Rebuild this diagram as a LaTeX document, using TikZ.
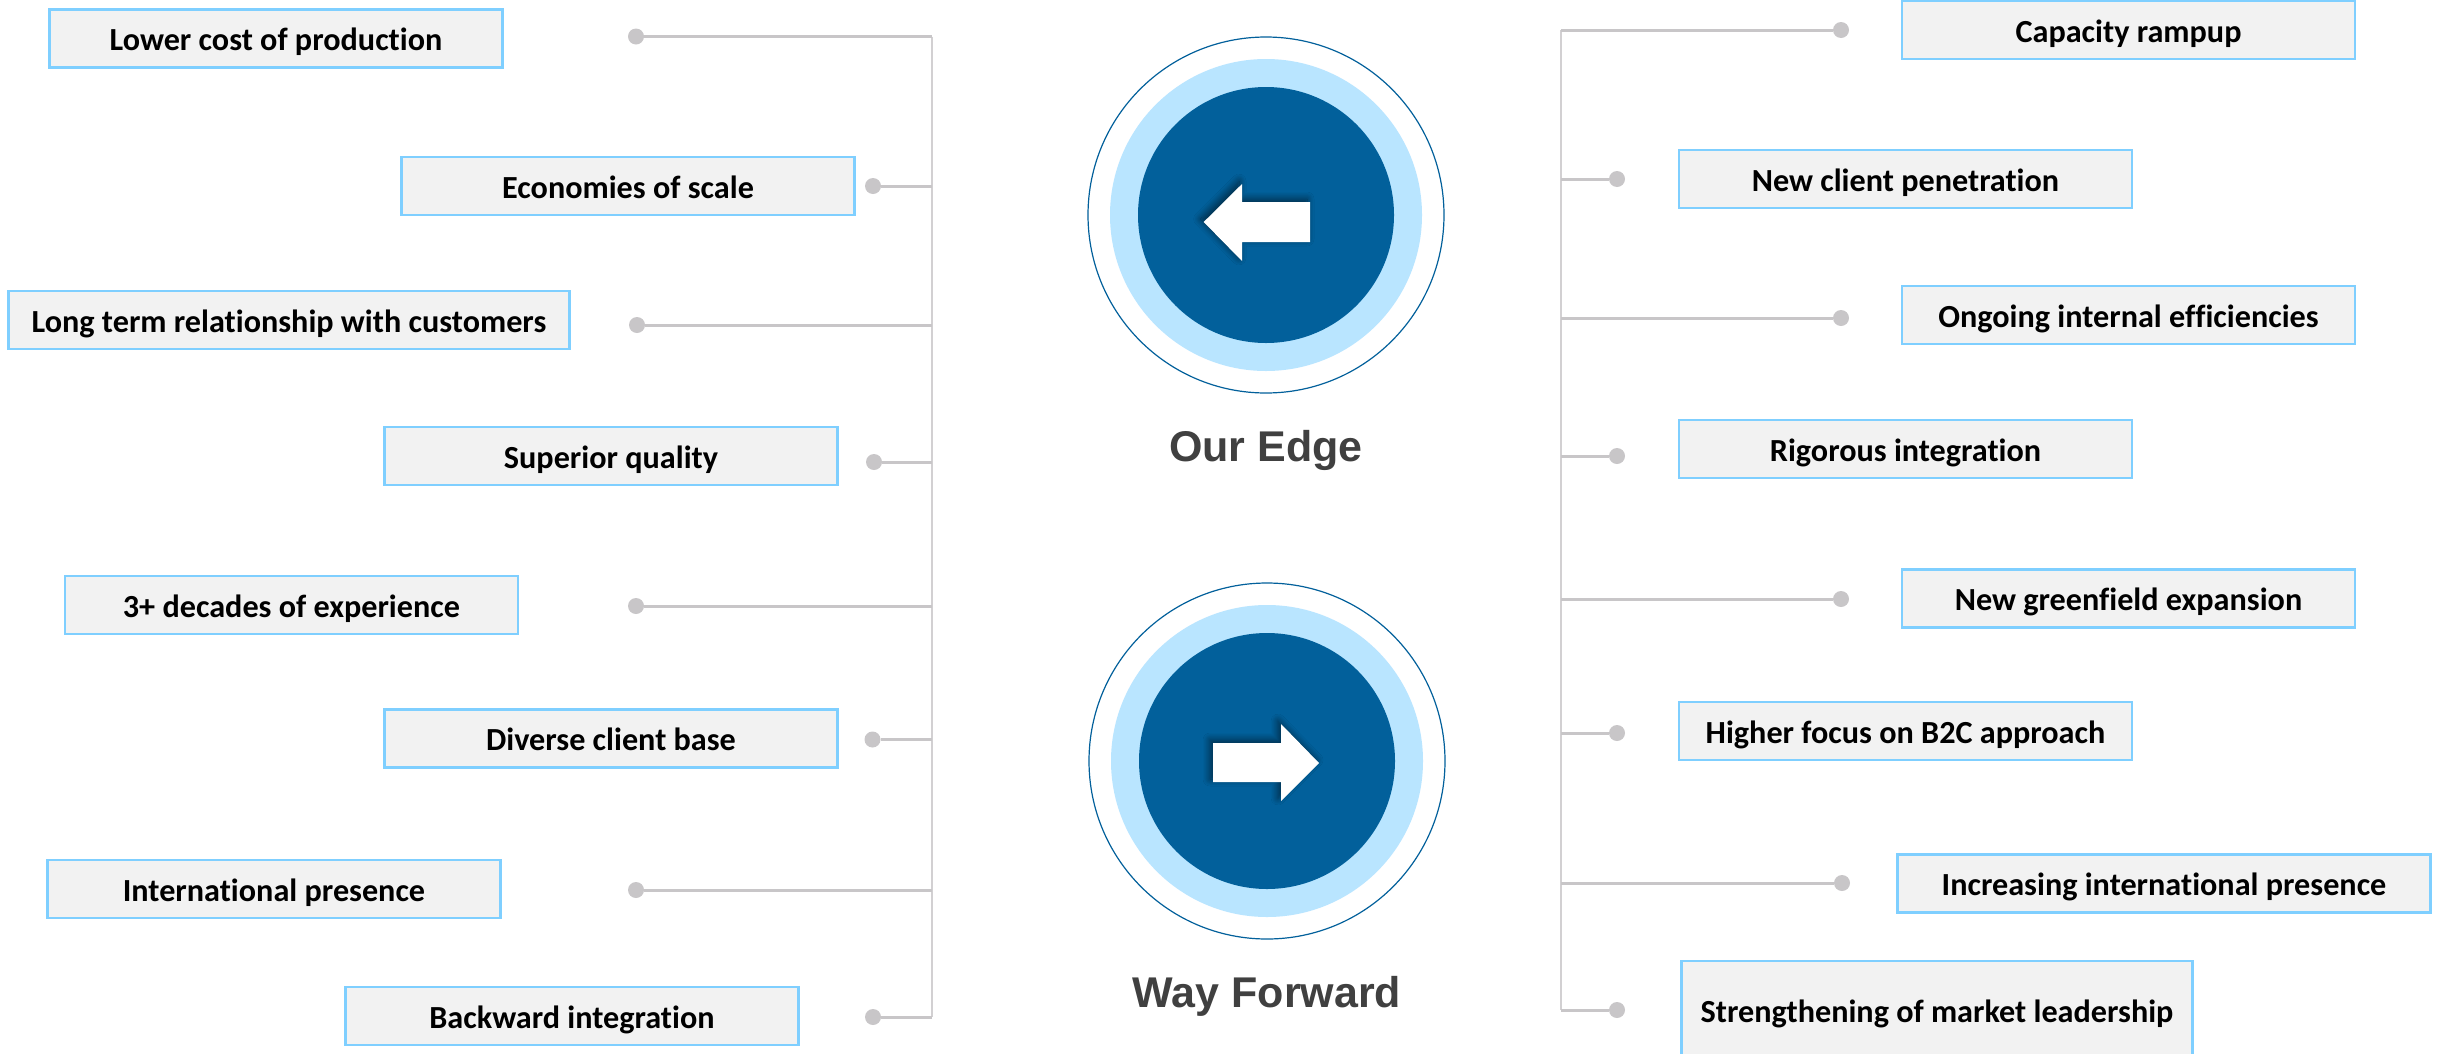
\documentclass[tikz,border=0pt]{standalone}
\usepackage{fontspec}
\setmainfont[Ligatures=NoCommon]{Carlito}
\newfontfamily\headfont{Liberation Sans}
\usetikzlibrary{shadows.blur}
\definecolor{boxline}{HTML}{7FCFFF}
\definecolor{boxfill}{HTML}{F2F2F2}
\definecolor{conn}{HTML}{C8C6C8}
\definecolor{trunk}{HTML}{D2D0D2}
\definecolor{navy}{HTML}{02609B}
\definecolor{pale}{HTML}{B9E5FF}
\definecolor{headtxt}{HTML}{404040}
\tikzset{
  x=1pt,y=-1pt,
  itembox/.style={draw=boxline,fill=boxfill,line width=2.4pt,minimum width=453pt,minimum height=58pt,inner sep=0pt,
    text height=31pt,text depth=7pt,
    font=\fontsize{32.2pt}{36pt}\selectfont\bfseries,text=black},
  dot/.style={circle,fill=conn,minimum size=16pt,inner sep=0pt},
  conn line/.style={draw=conn,line width=3pt},
  trunk line/.style={draw=trunk,line width=2pt},
  outer ring/.style={circle,draw=navy,line width=1.2pt,fill=white,minimum size=356pt,inner sep=0pt},
  mid ring/.style={circle,fill=pale,minimum size=312pt,inner sep=0pt},
  core/.style={circle,fill=navy,minimum size=256pt,inner sep=0pt},
  headline/.style={font=\headfont\fontsize{43pt}{48pt}\selectfont\bfseries,text=headtxt,inner sep=0pt},
  arrow shape/.style={fill=white,blur shadow={shadow xshift=-3pt,shadow yshift=3pt,shadow blur radius=7pt,shadow opacity=55,shadow blur steps=12}},
}
\begin{document}
\begin{tikzpicture}
\useasboundingbox (0,0) rectangle (2447,1053);
\clip (0,0) rectangle (2447,1053);
% left items
\node[itembox] (l1) at (276,38.5) {Lower cost of production};
\node[itembox] (l2) at (628,186) {Economies of scale};
\node[itembox,minimum width=561pt] (l3) at (289,320) {Long term relationship with customers};
\node[itembox] (l4) at (611,456) {Superior quality};
\node[itembox] (l5) at (291.5,605) {3+ decades of experience};
\node[itembox] (l6) at (611,738.5) {Diverse client base};
\node[itembox] (l7) at (274,889) {International presence};
\node[itembox] (l8) at (572,1016) {Backward integration};
% left dots
\node[dot] (ld1) at (636,36.5) {};
\node[dot] (ld2) at (873,186) {};
\node[dot] (ld3) at (637,325) {};
\node[dot] (ld4) at (874,462) {};
\node[dot] (ld5) at (636,606) {};
\node[dot] (ld6) at (872.5,739.5) {};
\node[dot] (ld7) at (636,890) {};
\node[dot] (ld8) at (873,1017) {};
\coordinate (lt) at (932,36.5);
\coordinate (lb) at (932,1017);
\draw[trunk line] (lt) -- (lb);
\foreach \n in {1,...,8} \draw[conn line] (ld\n) -- (ld\n -| lt);
% right items
\node[itembox] (r1) at (2128.5,30) {Capacity rampup};
\node[itembox] (r2) at (1905.5,179) {New client penetration};
\node[itembox] (r3) at (2128.5,315) {Ongoing internal efficiencies};
\node[itembox] (r4) at (1905.5,449) {Rigorous integration};
\node[itembox] (r5) at (2128.5,598.5) {New greenfield expansion};
\node[itembox] (r6) at (1905.5,731) {Higher focus on B2C approach};
\node[itembox,minimum width=533pt] (r7) at (2164,883.5) {Increasing international presence};
\node[itembox,minimum width=511pt,minimum height=98pt] (r8) at (1937,1010) {Strengthening of market leadership};
% right dots
\node[dot] (rd1) at (1841,30) {};
\node[dot] (rd2) at (1617,179) {};
\node[dot] (rd3) at (1841,318) {};
\node[dot] (rd4) at (1617,456) {};
\node[dot] (rd5) at (1841,599) {};
\node[dot] (rd6) at (1617,733) {};
\node[dot] (rd7) at (1842,883) {};
\node[dot] (rd8) at (1617,1010) {};
\coordinate (rt) at (1561,30);
\coordinate (rb) at (1561,1010);
\draw[trunk line] (rt) -- (rb);
\foreach \n in {1,...,8} \draw[conn line] (rd\n) -- (rd\n -| rt);
% circles
\node[outer ring] (c1o) at (1266,215) {};
\node[mid ring] (c1m) at (c1o) {};
\node[core] (c1c) at (c1o) {};
\fill[arrow shape] (1203.7,222) -- (1242,184) -- (1242,202) -- (1310,202) -- (1310,242) -- (1242,242) -- (1242,261) -- cycle;
\node[headline] (t1) at (1266,450) {Our Edge};
\node[outer ring] (c2o) at (1267,761) {};
\node[mid ring] (c2m) at (c2o) {};
\node[core] (c2c) at (c2o) {};
\fill[arrow shape] (1319,763) -- (1281,724) -- (1281,743) -- (1213,743) -- (1213,782) -- (1281,782) -- (1281,801) -- cycle;
\node[headline] (t2) at (1267,996) {Way Forward};
\end{tikzpicture}
\end{document}
